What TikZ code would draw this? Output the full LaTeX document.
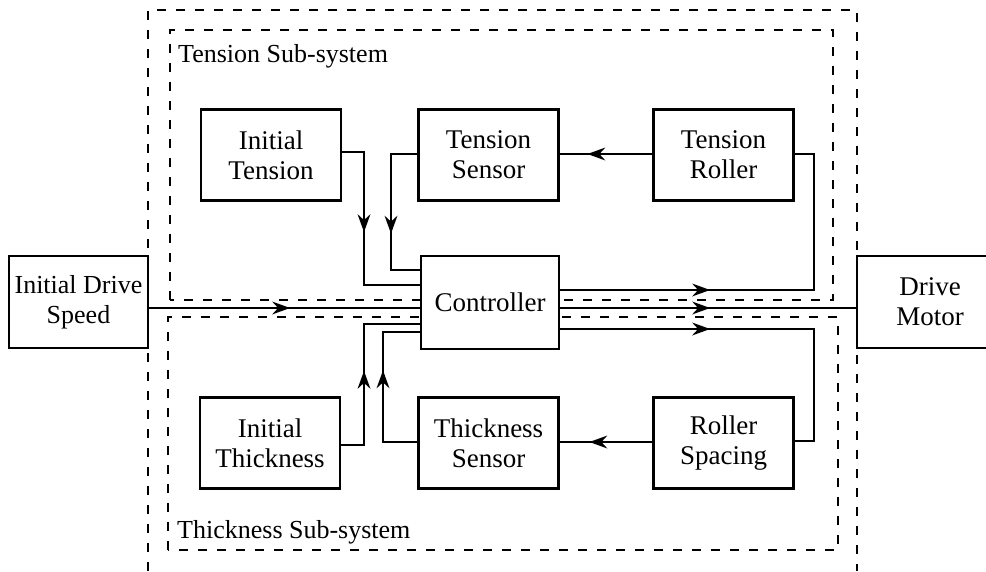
\documentclass[tikz,border=0pt]{standalone}
\usepackage{fontspec}
\setmainfont{Liberation Serif}
\usetikzlibrary{decorations.markings}
\begin{document}
\begin{tikzpicture}[x=1pt,y=-1pt,
  blk/.style={draw,line width=2.2pt,fill=white,minimum width=140pt,minimum height=91pt,
    inner sep=0pt,align=center,font=\fontsize{27}{30}\selectfont},
  conn/.style={line width=1.3pt},
  dsh/.style={line width=1.4pt,dash pattern=on 9pt off 10pt},
  lbl/.style={inner sep=0pt,font=\fontsize{26}{28}\selectfont},
  arr/.style={postaction={decorate},decoration={markings,
    mark=at position #1 with {\fill[black] (1pt,0pt) -- (-17pt,-6.5pt) -- (-11pt,0pt) -- (-17pt,6.5pt) -- cycle;}}}]
\clip (0,0) rectangle (986,571);
% dashed frames
\draw[dsh] (148,571) -- (148,10) -- (857,10) -- (857,571);
\draw[dsh] (170,300) -- (170,30) -- (833,30) -- (833,300) -- cycle;
\draw[dsh] (168,550) -- (168,317) -- (838,317) -- (838,550) -- cycle;
% labels
\node[lbl,anchor=base west] (tl) at (178,62) {Tension Sub-system};
\node[lbl,anchor=base west] (kl) at (177,538) {Thickness Sub-system};
% blocks
\node[blk,minimum width=139pt,minimum height=92pt,font=\fontsize{26}{30}\selectfont] (ids) at (78.5,302) {Initial Drive\\Speed};
\node[blk,minimum width=146pt,minimum height=92pt] (dm) at (930,302) {Drive\\Motor};
\node[blk] (itens) at (271,155) {Initial\\Tension};
\node[blk] (tsens) at (488.5,155) {Tension\\Sensor};
\node[blk] (troll) at (723.5,155) {Tension\\Roller};
\node[blk,minimum width=138pt,minimum height=93pt] (ctrl) at (490,302.5) {Controller};
\node[blk] (ithk) at (270,443) {Initial\\Thickness};
\node[blk] (thsens) at (488.5,443) {Thickness\\Sensor};
\node[blk] (rsp) at (723.5,443) {Roller\\Spacing};
% connectors
\draw[conn,arr=101pt] (itens.east |- 0,152) -| (364,285) -- (ctrl.west |- 0,285);
\draw[conn,arr=105pt] (tsens.west |- 0,154) -| (391,270) -- (ctrl.west |- 0,270);
\draw[conn,arr=64pt] (troll.west |- 0,154) -- (tsens.east |- 0,154);
\draw[conn,arr=149pt] (ctrl.east |- 0,290) -- (814,290) |- (troll.east |- 0,154);
\draw[conn,arr=149pt] (ctrl.east |- 0,308) -- (dm.west |- 0,308);
\draw[conn,arr=149pt] (ctrl.east |- 0,329) -- (814,329) |- (rsp.east |- 0,441);
\draw[conn,arr=140pt] (ids.east |- 0,308) -- (ctrl.west |- 0,308);
\draw[conn,arr=96pt] (ithk.east |- 0,445) -| (364,324) -- (ctrl.west |- 0,324);
\draw[conn,arr=105pt] (thsens.west |- 0,442) -| (383,332) -- (ctrl.west |- 0,332);
\draw[conn,arr=62pt] (rsp.west |- 0,442) -- (thsens.east |- 0,442);
\end{tikzpicture}
\end{document}
